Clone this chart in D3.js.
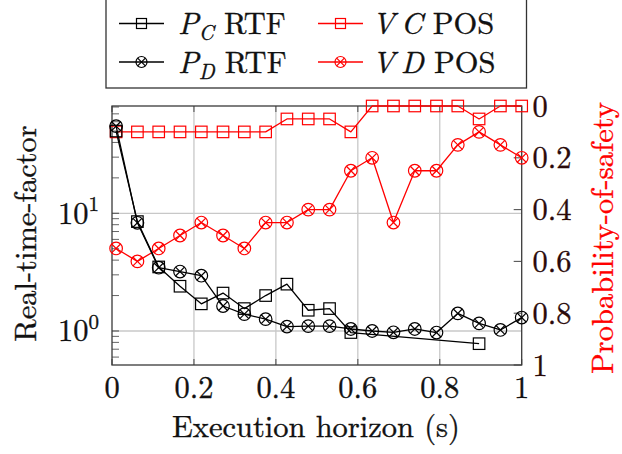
<!DOCTYPE html>
<html>
<head>
<meta charset="utf-8">
<script src="https://cdn.jsdelivr.net/npm/d3@7"></script>
<style>
  html, body { margin: 0; padding: 0; background: #fff; }
</style>
</head>
<body>
<svg id="chart" width="622" height="454"></svg>
<script>
// Execution horizon (s)
const horizon = [0.01, 0.062, 0.114, 0.166, 0.218, 0.271, 0.323, 0.375, 0.427, 0.479,
                 0.531, 0.583, 0.635, 0.687, 0.739, 0.792, 0.844, 0.896, 0.948, 1.0];
// Real-time-factor (left, log axis); null = no sample
const pcRTF = [50, 8.5, 3.5, 2.4, 1.7, 2.1, 1.55, 2.0, 2.5, 1.5,
               1.55, 0.97, null, null, null, null, null, 0.78, null, null];
const pdRTF = [55, 8.3, 3.45, 3.2, 2.95, 1.63, 1.39, 1.26, 1.09, 1.1,
               1.1, 1.04, 1.0, 0.975, 1.04, 0.97, 1.41, 1.16, 1.02, 1.3];
// Probability-of-safety (right axis, reversed)
const vcPOS = [0.1, 0.1, 0.1, 0.1, 0.1, 0.1, 0.1, 0.1, 0.05, 0.05,
               0.05, 0.1, 0, 0, 0, 0, 0, 0.05, 0, 0];
const vdPOS = [0.55, 0.6, 0.55, 0.5, 0.45, 0.5, 0.55, 0.45, 0.45, 0.4,
               0.4, 0.25, 0.2, 0.45, 0.25, 0.25, 0.15, 0.1, 0.15, 0.2];

const xTicks = [0, 0.2, 0.4, 0.6, 0.8, 1];
const xTickLabels = ["0", "0.2", "0.4", "0.6", "0.8", "1"];
const rightTicks = [0, 0.2, 0.4, 0.6, 0.8, 1];
const rightTickLabels = ["0", "0.2", "0.4", "0.6", "0.8", "1"];
const leftMajor = [1, 10];
const leftMinor = [0.6, 0.7, 0.8, 0.9, 2, 3, 4, 5, 6, 7, 8, 9, 20, 30, 40, 50, 60, 70, 80];

const svg = d3.select("#chart");
const L = 112, R = 521.7, T = 106, B = 365;

const x = d3.scaleLinear().domain([0, 1]).range([L, R]);
const yL = d3.scaleLog().domain([0.514, 81.6]).range([B, T]);
const yR = d3.scaleLinear().domain([0, 1]).range([T, B]);

const FONT = "\"Latin Modern Roman\", \"Liberation Serif\", serif";
const FS = 30.5;
const SUP = 21;
const RED = "#ff0000";
const GRID = "#c8c8c8";
const AX = "#3a3a3a";

// grid
const g = svg.append("g");
g.selectAll(".gx").data(xTicks.slice(1, -1)).join("line")
  .attr("x1", d => x(d)).attr("x2", d => x(d)).attr("y1", T).attr("y2", B)
  .attr("stroke", GRID).attr("stroke-width", 1.3);
g.selectAll(".gy").data(leftMajor).join("line")
  .attr("x1", L).attr("x2", R).attr("y1", d => yL(d)).attr("y2", d => yL(d))
  .attr("stroke", GRID).attr("stroke-width", 1.3);

// ticks
const ticks = svg.append("g").attr("stroke", "#555").attr("stroke-width", 1.1);
xTicks.forEach(d => {
  ticks.append("line").attr("x1", x(d)).attr("x2", x(d)).attr("y1", B).attr("y2", B - 6);
  ticks.append("line").attr("x1", x(d)).attr("x2", x(d)).attr("y1", T).attr("y2", T + 6);
});
leftMajor.forEach(d => {
  ticks.append("line").attr("x1", L).attr("x2", L + 7).attr("y1", yL(d)).attr("y2", yL(d));
});
leftMinor.forEach(d => {
  ticks.append("line").attr("x1", L).attr("x2", L + 7).attr("y1", yL(d)).attr("y2", yL(d))
    .attr("stroke-width", 0.9);
});
rightTicks.forEach(d => {
  ticks.append("line").attr("x1", R).attr("x2", R - 8).attr("y1", yR(d)).attr("y2", yR(d));
});

// frame
svg.append("rect").attr("x", L).attr("y", T).attr("width", R - L).attr("height", B - T)
  .attr("fill", "none").attr("stroke", AX).attr("stroke-width", 1.3);

// markers
function squareMarker(sel, px, py, color, s) {
  sel.append("rect").attr("x", px - s / 2).attr("y", py - s / 2)
    .attr("width", s).attr("height", s)
    .attr("fill", "none").attr("stroke", color).attr("stroke-width", 1.2);
}
function otimesMarker(sel, px, py, color, r) {
  sel.append("circle").attr("cx", px).attr("cy", py).attr("r", r)
    .attr("fill", "none").attr("stroke", color).attr("stroke-width", 1.2);
  const k = r * Math.SQRT1_2;
  sel.append("line").attr("x1", px - k).attr("y1", py - k).attr("x2", px + k).attr("y2", py + k)
    .attr("stroke", color).attr("stroke-width", 1.2);
  sel.append("line").attr("x1", px - k).attr("y1", py + k).attr("x2", px + k).attr("y2", py - k)
    .attr("stroke", color).attr("stroke-width", 1.2);
}

function drawSeries(values, yScale, color, marker) {
  const pts = horizon.map((h, i) => [h, values[i]]).filter(p => p[1] !== null);
  const line = d3.line().x(p => x(p[0])).y(p => yScale(p[1]));
  const grp = svg.append("g");
  grp.append("path").attr("d", line(pts)).attr("fill", "none")
    .attr("stroke", color).attr("stroke-width", 1.3).attr("stroke-linejoin", "round");
  pts.forEach(p => {
    if (marker === "square") squareMarker(grp, x(p[0]), yScale(p[1]), color, 11.5);
    else otimesMarker(grp, x(p[0]), yScale(p[1]), color, 6.3);
  });
}

drawSeries(vcPOS, yR, RED, "square");
drawSeries(vdPOS, yR, RED, "otimes");
drawSeries(pcRTF, yL, "#000", "square");
drawSeries(pdRTF, yL, "#000", "otimes");

function txt(sel, color) {
  const c = color || "#111";
  return sel.append("text").style("font-family", FONT).style("font-size", FS + "px")
    .attr("fill", c).attr("stroke", c).attr("stroke-width", 0.35);
}

// x tick labels
xTicks.forEach((d, i) => {
  txt(svg).attr("x", x(d)).attr("y", 397.5).attr("text-anchor", "middle").text(xTickLabels[i]);
});

// left tick labels 10^k
leftMajor.forEach(d => {
  const t = txt(svg).attr("x", 99).attr("y", yL(d) + 10.5).attr("text-anchor", "end");
  t.append("tspan").text("10");
  t.append("tspan").attr("dy", -12.5).style("font-size", SUP + "px").text(String(Math.round(Math.log10(d))));
});

// right tick labels
rightTicks.forEach((d, i) => {
  txt(svg, "#2a0a0a").attr("x", 532.5).attr("y", yR(d) + 10.5).text(rightTickLabels[i]);
});

// axis titles
txt(svg).attr("x", 316).attr("y", 437).attr("text-anchor", "middle").text("Execution horizon (s)");
txt(svg).attr("transform", "translate(35.5,233.5) rotate(-90)").attr("text-anchor", "middle")
  .text("Real-time-factor");
txt(svg, RED).attr("transform", "translate(613,238) rotate(-90)").attr("text-anchor", "middle")
  .text("Probability-of-safety");

// legend
const leg = svg.append("g");
leg.append("rect").attr("x", 106).attr("y", -2).attr("width", 420.5).attr("height", 90)
  .attr("fill", "#fff").attr("stroke", "#333").attr("stroke-width", 1.3);
const legendItems = [
  { sym: "P", sub: "C", rest: " RTF", color: "#000", marker: "square", col: 0, row: 0 },
  { sym: "P", sub: "D", rest: " RTF", color: "#000", marker: "otimes", col: 0, row: 1 },
  { sym: "V\u2009C", sub: null, rest: " POS", color: RED, marker: "square", col: 1, row: 0 },
  { sym: "V\u2009D", sub: null, rest: " POS", color: RED, marker: "otimes", col: 1, row: 1 }
];
const colX = [119, 318];
const textDX = [59, 54];
const rowY = [23.5, 62];
legendItems.forEach(it => {
  const x0 = colX[it.col], yy = rowY[it.row];
  leg.append("line").attr("x1", x0).attr("x2", x0 + 45).attr("y1", yy).attr("y2", yy)
    .attr("stroke", it.color).attr("stroke-width", 1.3);
  if (it.marker === "square") squareMarker(leg, x0 + 22.5, yy, it.color, 10);
  else otimesMarker(leg, x0 + 22.5, yy, it.color, 5.5);
  const t = txt(leg).attr("x", x0 + textDX[it.col]).attr("y", yy + 10.5);
  t.append("tspan").style("font-style", "italic").text(it.sym);
  if (it.sub) {
    t.append("tspan").style("font-style", "italic").style("font-size", SUP + "px").attr("dy", 6).text(it.sub);
    t.append("tspan").attr("dy", -6).text(it.rest);
  } else {
    t.append("tspan").text(it.rest);
  }
});
</script>
</body>
</html>
